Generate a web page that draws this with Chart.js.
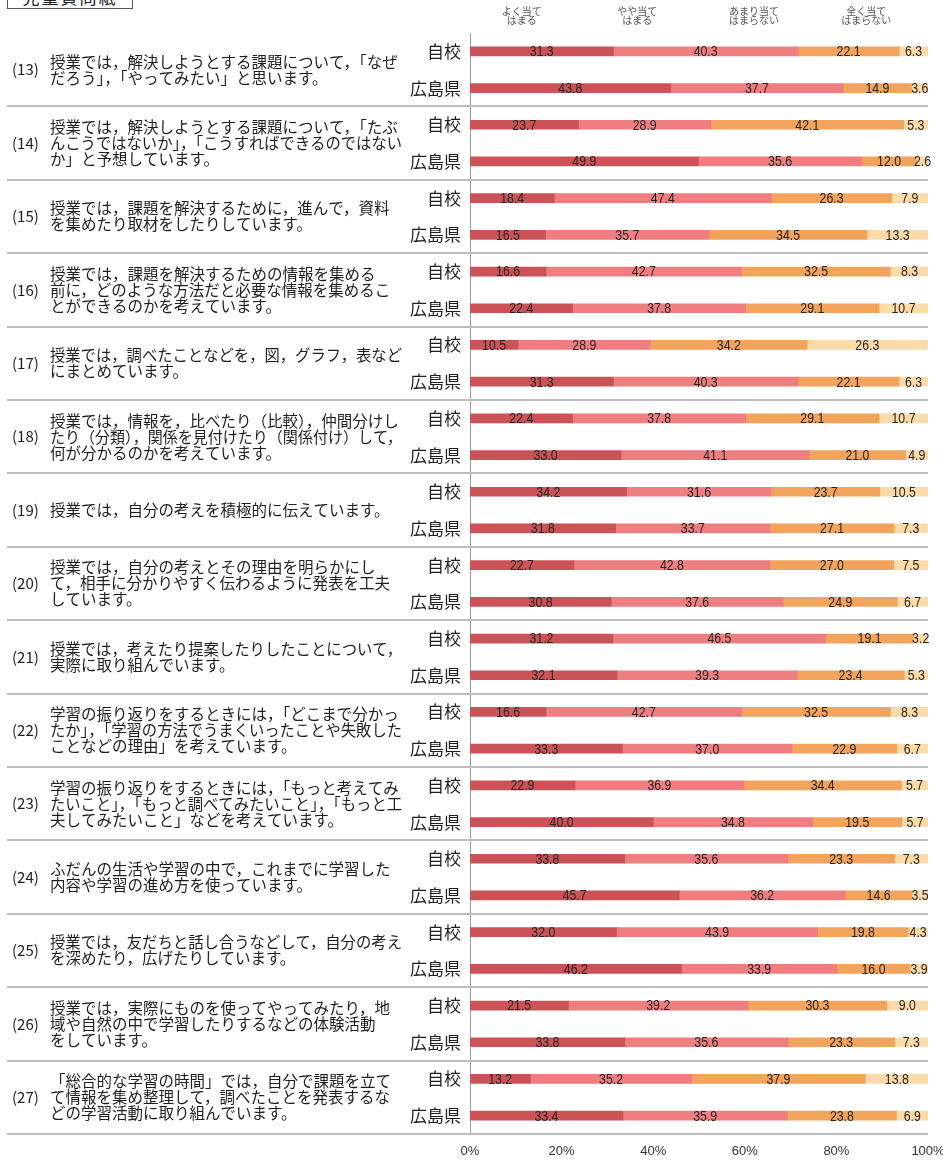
<!DOCTYPE html>
<html><head><meta charset="utf-8">
<script src="https://cdn.jsdelivr.net/npm/chart.js@4/dist/chart.umd.min.js"></script>
<style>
html,body{margin:0;padding:0;background:#fff;}
#wrap{position:relative;width:943px;height:1162px;overflow:hidden;}
#title{position:absolute;left:7px;top:-15px;width:124px;height:22px;border:1.5px solid #555;background:#fff;
 font-family:"Noto Sans CJK JP",sans-serif;font-size:17px;line-height:22px;text-align:center;color:#222;letter-spacing:2px;}
</style></head>
<body><div id="wrap"><canvas id="c" width="943" height="1162"></canvas><div id="title">児童質問紙</div></div>
<script>
const categories = ['自校','広島県','自校','広島県','自校','広島県','自校','広島県','自校','広島県','自校','広島県','自校','広島県','自校','広島県','自校','広島県','自校','広島県','自校','広島県','自校','広島県','自校','広島県','自校','広島県','自校','広島県'];
const yoku    = [31.3,43.8, 23.7,49.9, 18.4,16.5, 16.6,22.4, 10.5,31.3, 22.4,33.0, 34.2,31.8, 22.7,30.8, 31.2,32.1, 16.6,33.3, 22.9,40.0, 33.8,45.7, 32.0,46.2, 21.5,33.8, 13.2,33.4];
const yaya    = [40.3,37.7, 28.9,35.6, 47.4,35.7, 42.7,37.8, 28.9,40.3, 37.8,41.1, 31.6,33.7, 42.8,37.6, 46.5,39.3, 42.7,37.0, 36.9,34.8, 35.6,36.2, 43.9,33.9, 39.2,35.6, 35.2,35.9];
const amari   = [22.1,14.9, 42.1,12.0, 26.3,34.5, 32.5,29.1, 34.2,22.1, 29.1,21.0, 23.7,27.1, 27.0,24.9, 19.1,23.4, 32.5,22.9, 34.4,19.5, 23.3,14.6, 19.8,16.0, 30.3,23.3, 37.9,23.8];
const mattaku = [6.3,3.6, 5.3,2.6, 7.9,13.3, 8.3,10.7, 26.3,6.3, 10.7,4.9, 10.5,7.3, 7.5,6.7, 3.2,5.3, 8.3,6.7, 5.7,5.7, 7.3,3.5, 4.3,3.9, 9.0,7.3, 13.8,6.9];
const seriesLegend = [['よく当て','はまる'],['やや当て','はまる'],['あまり当て','はまらない'],['全く当て','はまらない']];
const legendAt = [11.3, 36.5, 62, 86.5];
const questionNumbers = ['(13)','(14)','(15)','(16)','(17)','(18)','(19)','(20)','(21)','(22)','(23)','(24)','(25)','(26)','(27)'];
const questionTexts = [
 ['授業では，解決しようとする課題について，「なぜ','だろう」，「やってみたい」と思います。'],
 ['授業では，解決しようとする課題について，「たぶ','んこうではないか」，「こうすればできるのではない','か」と予想しています。'],
 ['授業では，課題を解決するために，進んで，資料','を集めたり取材をしたりしています。'],
 ['授業では，課題を解決するための情報を集める','前に，どのような方法だと必要な情報を集めるこ','とができるのかを考えています。'],
 ['授業では，調べたことなどを，図，グラフ，表など','にまとめています。'],
 ['授業では，情報を，比べたり（比較），仲間分けし','たり（分類），関係を見付けたり（関係付け）して，','何が分かるのかを考えています。'],
 ['授業では，自分の考えを積極的に伝えています。'],
 ['授業では，自分の考えとその理由を明らかにし','て，相手に分かりやすく伝わるように発表を工夫','しています。'],
 ['授業では，考えたり提案したりしたことについて，','実際に取り組んでいます。'],
 ['学習の振り返りをするときには，「どこまで分かっ','たか」，「学習の方法でうまくいったことや失敗した','ことなどの理由」を考えています。'],
 ['学習の振り返りをするときには，「もっと考えてみ','たいこと」，「もっと調べてみたいこと」，「もっと工','夫してみたいこと」などを考えています。'],
 ['ふだんの生活や学習の中で，これまでに学習した','内容や学習の進め方を使っています。'],
 ['授業では，友だちと話し合うなどして，自分の考え','を深めたり，広げたりしています。'],
 ['授業では，実際にものを使ってやってみたり，地','域や自然の中で学習したりするなどの体験活動','をしています。'],
 ['「総合的な学習の時間」では，自分で課題を立て','て情報を集め整理して，調べたことを発表するな','どの学習活動に取り組んでいます。']
];
const colors = ['#CB5358','#EE7E80','#F2A35C','#FDDBA8'];
const JP = '"Noto Sans CJK JP", sans-serif';
const NUM = '"Liberation Sans Narrow","Liberation Sans",sans-serif';

const decor = {
  id:'decor',
  beforeDatasetsDraw(chart){
    const ctx = chart.ctx, y = chart.scales.y, x = chart.scales.x, a = chart.chartArea;
    const half = (y.getPixelForValue(1) - y.getPixelForValue(0))/2;
    ctx.save();
    ctx.strokeStyle = '#bdbdbd'; ctx.lineWidth = 2;
    for(let k=0;k<questionNumbers.length;k++){
      const yy = Math.round(y.getPixelForValue(2*k+1) + half);
      ctx.beginPath(); ctx.moveTo(7, yy); ctx.lineTo(a.right, yy); ctx.stroke();
    }
    ctx.fillStyle = '#1e1e1e'; ctx.textBaseline = 'middle';
    for(let k=0;k<questionNumbers.length;k++){
      const c = (y.getPixelForValue(2*k) + y.getPixelForValue(2*k+1))/2;
      const lines = questionTexts[k];
      ctx.font = '15px ' + JP; ctx.textAlign = 'left';
      ctx.fillText(questionNumbers[k], 12, c);
      ctx.font = '15.5px ' + JP;
      lines.forEach((t,i)=>{
        const ly = c + (i - (lines.length-1)/2)*16;
        ctx.fillText(t, 50, ly, 352);
      });
    }
    ctx.fillStyle = '#555'; ctx.font = '10px ' + JP; ctx.textAlign = 'center';
    seriesLegend.forEach((ls,i)=>{
      const px = x.getPixelForValue(legendAt[i]);
      ctx.fillText(ls[0], px, 11);
      ctx.fillText(ls[1], px, 20);
    });
    ctx.restore();
  },
  afterDatasetsDraw(chart){
    const ctx = chart.ctx;
    ctx.save();
    ctx.fillStyle = '#262626'; ctx.font = '14px ' + NUM; ctx.textAlign = 'center'; ctx.textBaseline = 'middle';
    chart.data.datasets.forEach((ds,i)=>{
      const meta = chart.getDatasetMeta(i);
      meta.data.forEach((el,j)=>{
        const v = ds.data[j];
        const cx = (el.x + el.base)/2;
        ctx.save();
        ctx.translate(cx, el.y + 1);
        ctx.scale(0.88, 1);
        ctx.fillText(v.toFixed(1), 0, 0);
        ctx.restore();
      });
    });
    ctx.restore();
  }
};

const seriesData = [yoku, yaya, amari, mattaku];
new Chart(document.getElementById('c'), {
  type:'bar',
  data:{
    labels: categories,
    datasets: seriesData.map((d,i)=>({label: seriesLegend[i].join(''), data:d, backgroundColor:colors[i], borderWidth:0, barThickness:9}))
  },
  options:{
    indexAxis:'y', responsive:false, animation:false, devicePixelRatio:1,
    layout:{padding:{top:33,right:15,left:0,bottom:0}},
    plugins:{legend:{display:false}, tooltip:{enabled:false}},
    scales:{
      x:{stacked:true, min:0, max:100,
         grid:{display:false}, border:{display:false},
         ticks:{stepSize:20, callback:v=>v+'%', color:'#333', font:{family:NUM, size:13}, padding:2, maxRotation:0},
         afterFit:s=>{s.height = 28; s.paddingRight = 0; s.paddingLeft = 0;}},
      y:{stacked:true,
         grid:{display:false}, border:{display:true, color:'#9a9a9a', width:1},
         ticks:{color:'#1e1e1e', font:{family:JP, size:17}, padding:1, autoSkip:false},
         afterFit:s=>{s.width = 470;}}
    }
  },
  plugins:[decor]
});
</script></body></html>
